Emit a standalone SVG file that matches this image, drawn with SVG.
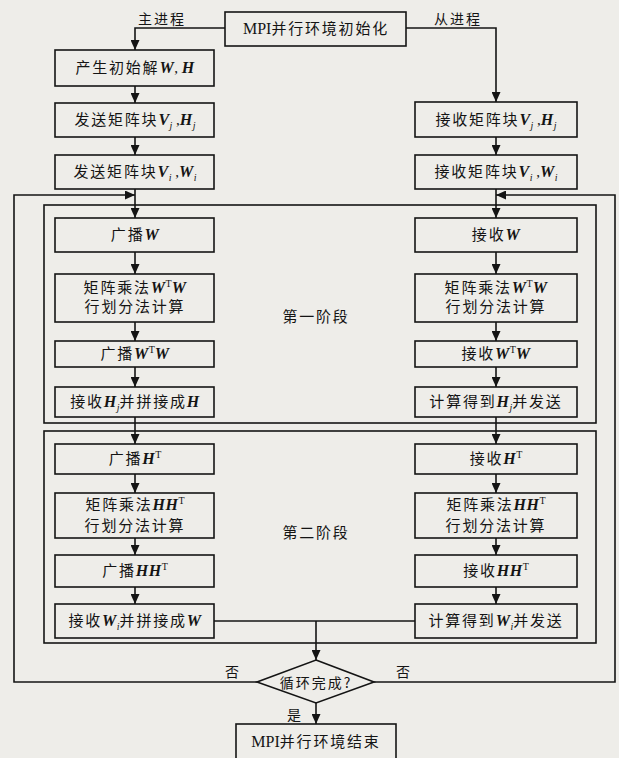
<svg xmlns="http://www.w3.org/2000/svg" width="619" height="758" viewBox="0 0 619 758">
<style>
.bg{fill:#eeede9}
.box{fill:none;stroke:#141414;stroke-width:1.6}
.ln{fill:none;stroke:#141414;stroke-width:1.6}
.t{font-family:"Noto Sans CJK SC","Noto Sans CJK TC",sans-serif;font-size:15px;fill:#141414;letter-spacing:1.8px;text-anchor:middle}
.s{font-size:14px;letter-spacing:2px}
.m{font-family:"Liberation Serif",serif;font-style:italic;font-weight:bold;letter-spacing:0.5px;font-size:16px}
.r{font-family:"Liberation Serif",serif;font-style:normal;letter-spacing:0}
.sup{font-family:"Liberation Serif",serif;font-style:normal;font-weight:normal;font-size:10px;letter-spacing:0}
.sub{font-family:"Liberation Serif",serif;font-style:italic;font-size:10px;letter-spacing:0}
</style>
<defs>
<marker id="ah" markerUnits="userSpaceOnUse" markerWidth="10" markerHeight="9" refX="10" refY="4.5" orient="auto">
<path d="M0,0 L10,4.5 L0,9 z" fill="#141414"/>
</marker>
</defs>
<rect class="bg" x="0" y="0" width="619" height="758"/>

<g id="frames">
<rect id="phase1" class="box" x="44" y="205" width="552" height="218"/>
<rect id="phase2" class="box" x="44" y="431" width="552" height="212"/>
<text class="t" x="316" y="322">第一阶段</text>
<text class="t" x="316" y="538">第二阶段</text>
</g>

<g id="connectors">
<path class="ln" d="M225,28 H135 V50" marker-end="url(#ah)"/>
<path class="ln" d="M406,28 H496 V102" marker-end="url(#ah)"/>
<path class="ln" d="M135,86 V103" marker-end="url(#ah)"/>
<path class="ln" d="M135,137 V155" marker-end="url(#ah)"/>
<path class="ln" d="M135,189 V218" marker-end="url(#ah)"/>
<path class="ln" d="M496,137 V155" marker-end="url(#ah)"/>
<path class="ln" d="M496,189 V218" marker-end="url(#ah)"/>
<path class="ln" d="M257,682 H14 V195 H135" marker-end="url(#ah)"/>
<path class="ln" d="M374,682 H615 V195 H496" marker-end="url(#ah)"/>
<path class="ln" d="M135,252 V274" marker-end="url(#ah)"/>
<path class="ln" d="M135,322 V341" marker-end="url(#ah)"/>
<path class="ln" d="M135,367 V387" marker-end="url(#ah)"/>
<path class="ln" d="M496,252 V274" marker-end="url(#ah)"/>
<path class="ln" d="M496,322 V341" marker-end="url(#ah)"/>
<path class="ln" d="M496,367 V387" marker-end="url(#ah)"/>
<path class="ln" d="M135,417 V444" marker-end="url(#ah)"/>
<path class="ln" d="M496,417 V444" marker-end="url(#ah)"/>
<path class="ln" d="M135,474 V493" marker-end="url(#ah)"/>
<path class="ln" d="M135,538 V555" marker-end="url(#ah)"/>
<path class="ln" d="M135,587 V604" marker-end="url(#ah)"/>
<path class="ln" d="M496,474 V493" marker-end="url(#ah)"/>
<path class="ln" d="M496,538 V555" marker-end="url(#ah)"/>
<path class="ln" d="M496,587 V604" marker-end="url(#ah)"/>
<path class="ln" d="M214,621 H415"/>
<path class="ln" d="M316,621 V660" marker-end="url(#ah)"/>
<path class="ln" d="M316,703 V724" marker-end="url(#ah)"/>
<text class="t s" x="162" y="24">主进程</text>
<text class="t s" x="458" y="24">从进程</text>
<text class="t s" x="233" y="677">否</text>
<text class="t s" x="404" y="677">否</text>
<text class="t s" x="295" y="720">是</text>
</g>

<g id="start">
<rect class="box" x="225" y="12" width="181" height="34"/>
<text class="t" x="316" y="34"><tspan class="r" font-size="16">MPI</tspan>并行环境初始化</text>
</g>

<g id="init">
<rect class="box" x="55" y="50" width="159" height="36"/>
<text class="t" x="135" y="73">产生初始解<tspan class="m">W</tspan><tspan class="r">, </tspan><tspan class="m">H</tspan></text>
</g>
<g id="sendVjHj">
<rect class="box" x="55" y="103" width="159" height="34"/>
<text class="t" x="135" y="125">发送矩阵块<tspan class="m">V</tspan><tspan class="sub" dy="4">j</tspan><tspan class="r" dy="-4"> ,</tspan><tspan class="m">H</tspan><tspan class="sub" dy="4">j</tspan></text>
</g>
<g id="sendViWi">
<rect class="box" x="55" y="155" width="159" height="34"/>
<text class="t" x="135" y="177">发送矩阵块<tspan class="m">V</tspan><tspan class="sub" dy="4">i</tspan><tspan class="r" dy="-4"> ,</tspan><tspan class="m">W</tspan><tspan class="sub" dy="4">i</tspan></text>
</g>
<g id="recvVjHj">
<rect class="box" x="415" y="102" width="162" height="35"/>
<text class="t" x="496" y="125">接收矩阵块<tspan class="m">V</tspan><tspan class="sub" dy="4">j</tspan><tspan class="r" dy="-4"> ,</tspan><tspan class="m">H</tspan><tspan class="sub" dy="4">j</tspan></text>
</g>
<g id="recvViWi">
<rect class="box" x="415" y="155" width="162" height="34"/>
<text class="t" x="496" y="177">接收矩阵块<tspan class="m">V</tspan><tspan class="sub" dy="4">i</tspan><tspan class="r" dy="-4"> ,</tspan><tspan class="m">W</tspan><tspan class="sub" dy="4">i</tspan></text>
</g>

<g id="bcastW">
<rect class="box" x="55" y="218" width="159" height="34"/>
<text class="t" x="135" y="240">广播<tspan class="m">W</tspan></text>
</g>
<g id="mulWTW_L">
<rect class="box" x="55" y="274" width="159" height="48"/>
<text class="t" x="135" y="293">矩阵乘法<tspan class="m">W</tspan><tspan class="sup" dy="-6">T</tspan><tspan class="m" dy="6">W</tspan></text>
<text class="t" x="135" y="312">行划分法计算</text>
</g>
<g id="bcastWTW">
<rect class="box" x="55" y="341" width="159" height="26"/>
<text class="t" x="135" y="359">广播<tspan class="m">W</tspan><tspan class="sup" dy="-6">T</tspan><tspan class="m" dy="6">W</tspan></text>
</g>
<g id="recvHjConcat">
<rect class="box" x="55" y="387" width="159" height="30"/>
<text class="t" x="135" y="407">接收<tspan class="m">H</tspan><tspan class="sub" dy="4">j</tspan><tspan dy="-4">并拼接成</tspan><tspan class="m">H</tspan></text>
</g>

<g id="recvW">
<rect class="box" x="415" y="218" width="162" height="34"/>
<text class="t" x="496" y="240">接收<tspan class="m">W</tspan></text>
</g>
<g id="mulWTW_R">
<rect class="box" x="415" y="274" width="162" height="48"/>
<text class="t" x="496" y="293">矩阵乘法<tspan class="m">W</tspan><tspan class="sup" dy="-6">T</tspan><tspan class="m" dy="6">W</tspan></text>
<text class="t" x="496" y="312">行划分法计算</text>
</g>
<g id="recvWTW">
<rect class="box" x="415" y="341" width="162" height="26"/>
<text class="t" x="496" y="359">接收<tspan class="m">W</tspan><tspan class="sup" dy="-6">T</tspan><tspan class="m" dy="6">W</tspan></text>
</g>
<g id="calcHj">
<rect class="box" x="415" y="387" width="162" height="30"/>
<text class="t" x="496" y="407">计算得到<tspan class="m">H</tspan><tspan class="sub" dy="4">j</tspan><tspan dy="-4">并发送</tspan></text>
</g>

<g id="bcastHT">
<rect class="box" x="55" y="444" width="159" height="30"/>
<text class="t" x="135" y="464">广播<tspan class="m">H</tspan><tspan class="sup" dy="-6">T</tspan></text>
</g>
<g id="mulHHT_L">
<rect class="box" x="55" y="493" width="159" height="45"/>
<text class="t" x="135" y="510">矩阵乘法<tspan class="m">HH</tspan><tspan class="sup" dy="-6">T</tspan></text>
<text class="t" x="135" y="531">行划分法计算</text>
</g>
<g id="bcastHHT">
<rect class="box" x="55" y="555" width="159" height="32"/>
<text class="t" x="135" y="576">广播<tspan class="m">HH</tspan><tspan class="sup" dy="-6">T</tspan></text>
</g>
<g id="recvWiConcat">
<rect class="box" x="55" y="604" width="159" height="34"/>
<text class="t" x="135" y="626">接收<tspan class="m">W</tspan><tspan class="sub" dy="4">i</tspan><tspan dy="-4">并拼接成</tspan><tspan class="m">W</tspan></text>
</g>

<g id="recvHT">
<rect class="box" x="415" y="444" width="162" height="30"/>
<text class="t" x="496" y="464">接收<tspan class="m">H</tspan><tspan class="sup" dy="-6">T</tspan></text>
</g>
<g id="mulHHT_R">
<rect class="box" x="415" y="493" width="162" height="45"/>
<text class="t" x="496" y="510">矩阵乘法<tspan class="m">HH</tspan><tspan class="sup" dy="-6">T</tspan></text>
<text class="t" x="496" y="531">行划分法计算</text>
</g>
<g id="recvHHT">
<rect class="box" x="415" y="555" width="162" height="32"/>
<text class="t" x="496" y="576">接收<tspan class="m">HH</tspan><tspan class="sup" dy="-6">T</tspan></text>
</g>
<g id="calcWi">
<rect class="box" x="415" y="604" width="162" height="34"/>
<text class="t" x="496" y="626">计算得到<tspan class="m">W</tspan><tspan class="sub" dy="4">i</tspan><tspan dy="-4">并发送</tspan></text>
</g>

<g id="decision">
<path class="box" d="M316,660 L374,682 L316,703 L257,682 Z"/>
<text class="t s" x="316" y="688">循环完成?</text>
</g>

<g id="end">
<rect class="box" x="236" y="724" width="160" height="40"/>
<text class="t" x="316" y="747"><tspan class="r" font-size="16">MPI</tspan>并行环境结束</text>
</g>
</svg>
